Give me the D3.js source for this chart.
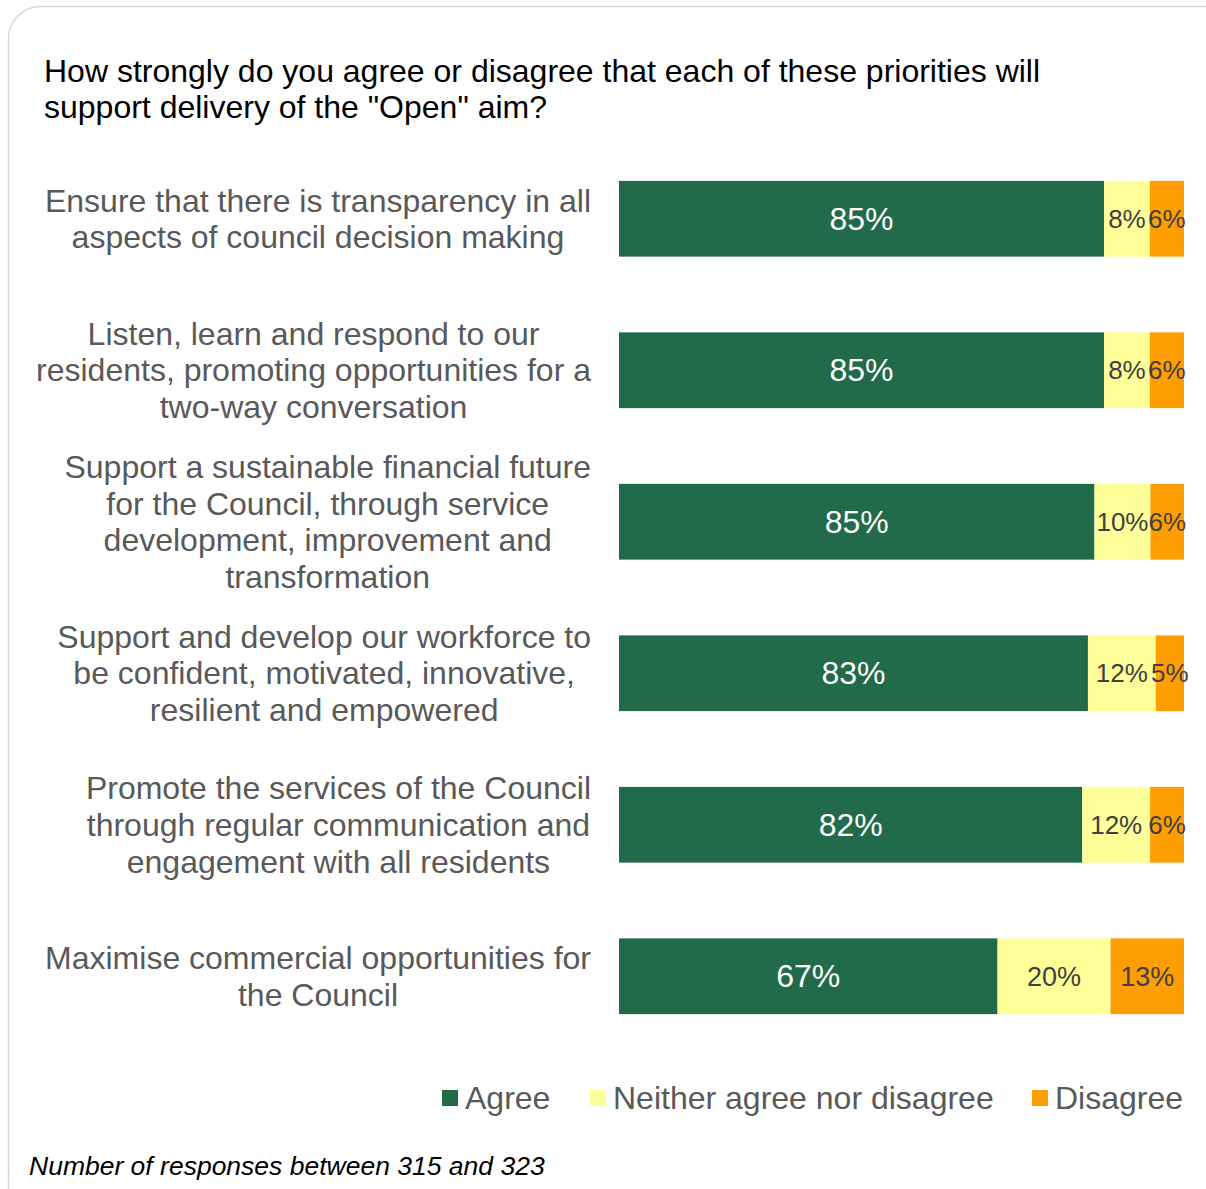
<!DOCTYPE html>
<html>
<head>
<meta charset="utf-8">
<script src="https://cdn.jsdelivr.net/npm/d3@7"></script>
<style>
  html, body { margin: 0; padding: 0; background: #fff; }
  svg { display: block; font-family: "Liberation Sans", Arial, sans-serif; }
</style>
</head>
<body>
<svg id="chart" width="1206" height="1189"></svg>
<script>
// Priorities (each entry is a list of wrapped lines)
const categories = [
  ["Ensure that there is transparency in all", "aspects of council decision making"],
  ["Listen, learn and respond to our", "residents, promoting opportunities for a", "two-way conversation"],
  ["Support a sustainable financial future", "for the Council, through service", "development, improvement and", "transformation"],
  ["Support and develop our workforce to", "be confident, motivated, innovative,", "resilient and empowered"],
  ["Promote the services of the Council", "through regular communication and", "engagement with all residents"],
  ["Maximise commercial opportunities for", "the Council"]
];
const seriesNames = ["Agree", "Neither agree nor disagree", "Disagree"];
const agree    = [85, 85, 85, 83, 82, 67];
const neither  = [8, 8, 10, 12, 12, 20];
const disagree = [6, 6, 6, 5, 6, 13];

const colors = ["#216a4a", "#ffff99", "#ff9e00"];
const labelColors = ["#ffffff", "#404040", "#404040"];

const svg = d3.select("#chart");

// Card outline
svg.append("rect")
  .attr("x", 8.5).attr("y", 6.5)
  .attr("width", 1230).attr("height", 1230)
  .attr("rx", 32).attr("ry", 32)
  .attr("fill", "#fff").attr("stroke", "#d9d9d9").attr("stroke-width", 1.5);

// Title
const title = svg.append("text")
  .attr("fill", "#000").style("font-size", "32px");
title.append("tspan").attr("x", 44).attr("y", 82)
  .text("How strongly do you agree or disagree that each of these priorities will");
title.append("tspan").attr("x", 44).attr("y", 118)
  .text("support delivery of the \"Open\" aim?");

// Stacked data (each row shown as share of its own total)
const rows = categories.map((c, i) => {
  const vals = [agree[i], neither[i], disagree[i]];
  const total = d3.sum(vals);
  let acc = 0;
  return vals.map((v, k) => {
    const seg = { row: i, k, value: v, x0: acc / total, x1: (acc + v) / total };
    acc += v;
    return seg;
  });
});

const x = d3.scaleLinear().domain([0, 1]).range([619, 1184]);
const y = d3.scaleBand()
  .domain(d3.range(categories.length))
  .range([143, 1052])
  .paddingInner(0.5).paddingOuter(0.25);

const g = svg.append("g");
const segs = g.selectAll("g.row").data(rows).join("g").attr("class", "row")
  .selectAll("g.seg").data(d => d).join("g").attr("class", "seg");

segs.append("rect")
  .attr("x", d => x(d.x0))
  .attr("y", d => y(d.row))
  .attr("width", d => x(d.x1) - x(d.x0))
  .attr("height", y.bandwidth())
  .attr("fill", d => colors[d.k]);

segs.append("text")
  .attr("x", d => (x(d.x0) + x(d.x1)) / 2)
  .attr("y", d => y(d.row) + y.bandwidth() / 2)
  .attr("dy", "0.35em")
  .attr("text-anchor", "middle")
  .attr("fill", d => labelColors[d.k])
  .style("font-size", d => d.k === 0 ? "32px" : (d.row === 5 ? "27px" : "26px"))
  .text(d => d.value + "%");

// Category labels: lines centred within a block right-aligned to the bars
const labelRight = 591;
const lineH = 36.8;
categories.forEach((lines, i) => {
  const cy = y(i) + y.bandwidth() / 2;
  const t = svg.append("text")
    .attr("fill", "#595959")
    .style("font-size", "32px")
    .attr("text-anchor", "middle");
  const spans = lines.map((ln, j) => t.append("tspan")
    .attr("y", cy + (j - (lines.length - 1) / 2) * lineH)
    .attr("dy", "0.35em")
    .text(ln));
  const maxW = d3.max(spans, s => s.node().getComputedTextLength());
  spans.forEach(s => s.attr("x", labelRight - maxW / 2));
});

// Legend
const legendItems = [
  { name: seriesNames[0], color: colors[0], sx: 442 },
  { name: seriesNames[1], color: colors[1], sx: 590 },
  { name: seriesNames[2], color: colors[2], sx: 1032 }
];
const lg = svg.append("g");
legendItems.forEach(it => {
  lg.append("rect").attr("x", it.sx).attr("y", 1090).attr("width", 16).attr("height", 16).attr("fill", it.color);
  lg.append("text").attr("x", it.sx + 23).attr("y", 1109)
    .attr("fill", "#595959").style("font-size", "32px").text(it.name);
});

// Footnote
svg.append("text")
  .attr("x", 29).attr("y", 1175)
  .attr("fill", "#000")
  .style("font-size", "26.5px").style("font-style", "italic")
  .text("Number of responses between 315 and 323");
</script>
</body>
</html>
